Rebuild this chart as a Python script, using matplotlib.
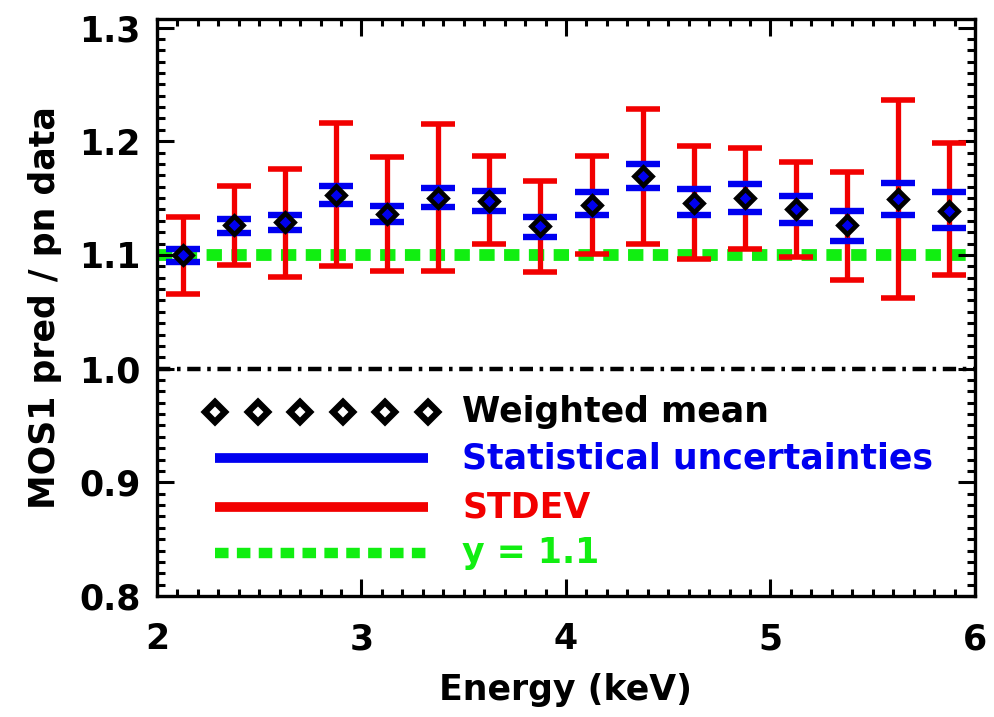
import matplotlib
matplotlib.use("Agg")
import matplotlib.pyplot as plt
from matplotlib.ticker import MultipleLocator

# ---- data ----
energy = [2.125, 2.375, 2.625, 2.875, 3.125, 3.375, 3.625, 3.875,
          4.125, 4.375, 4.625, 4.875, 5.125, 5.375, 5.625, 5.875]
weighted_mean = [1.100, 1.126, 1.129, 1.153, 1.136, 1.150, 1.147, 1.125,
                 1.144, 1.169, 1.146, 1.150, 1.140, 1.126, 1.149, 1.139]
stat_low = [1.094, 1.119, 1.122, 1.145, 1.129, 1.142, 1.139, 1.116,
            1.135, 1.159, 1.135, 1.138, 1.128, 1.112, 1.135, 1.124]
stat_high = [1.105, 1.132, 1.135, 1.161, 1.143, 1.159, 1.156, 1.133,
             1.155, 1.180, 1.158, 1.162, 1.152, 1.139, 1.163, 1.155]
std_low = [1.066, 1.091, 1.081, 1.090, 1.086, 1.086, 1.110, 1.085,
           1.101, 1.110, 1.096, 1.105, 1.098, 1.078, 1.062, 1.082]
std_high = [1.133, 1.161, 1.176, 1.216, 1.186, 1.215, 1.187, 1.165,
            1.187, 1.228, 1.196, 1.194, 1.182, 1.173, 1.236, 1.198]
ref_level = 1.1
unity = 1.0
x_ticks = [2, 3, 4, 5, 6]
y_ticks = [0.8, 0.9, 1.0, 1.1, 1.2, 1.3]
legend_labels = ["Weighted mean", "Statistical uncertainties", "STDEV", "y = 1.1"]

RED = "#f20000"
BLUE = "#0000f0"
GREEN = "#11ee11"

plt.rcParams['font.family'] = ['DejaVu Sans']
plt.rcParams['font.weight'] = 'bold'

fig = plt.figure(figsize=(9.95, 7.17), dpi=100)
ax = fig.add_axes([157/995, 1-596/717, 818/995, 577/717])

ax.set_xlim(2, 6)
ax.set_ylim(0.8, 1.3075)

# reference lines
ax.axhline(unity, color='black', lw=3.2, dashes=(3.0, 1.5, 0.8, 1.5), zorder=1)
ax.axhline(ref_level, color=GREEN, lw=8.5, dashes=(1.3, 0.8), zorder=1)

# STDEV: red vertical bars with caps
ax.vlines(energy, std_low, std_high, color=RED, lw=3.8, zorder=2)
ax.plot(energy, std_low, '_', color=RED, ms=24, mew=4.0, zorder=2)
ax.plot(energy, std_high, '_', color=RED, ms=24, mew=4.0, zorder=2)

# statistical uncertainties: blue caps
ax.plot(energy, stat_low, '_', color=BLUE, ms=24, mew=4.6, zorder=3)
ax.plot(energy, stat_high, '_', color=BLUE, ms=24, mew=4.6, zorder=3)

# weighted mean: diamonds
ax.plot(energy, weighted_mean, 'D', mfc=BLUE, mec='black', mew=3.4, ms=9.5, zorder=4)

# ---- legend drawn manually ----
tr = ax.transAxes
lx0, lx1, tx = 0.071, 0.331, 0.373
rows = [0.319, 0.239, 0.154, 0.0745]
n_d = 6
dx = [lx0 + i*(lx1-lx0)/(n_d-1) for i in range(n_d)]
ax.plot(dx, [rows[0]]*n_d, 'D', transform=tr, mfc='white', mec='black', mew=4.6, ms=10, clip_on=False)
ax.plot([lx0, lx1], [rows[1]]*2, color=BLUE, lw=7, transform=tr, solid_capstyle='butt')
ax.plot([lx0, lx1], [rows[2]]*2, color=RED, lw=7, transform=tr, solid_capstyle='butt')
ax.plot([lx0, lx1], [rows[3]]*2, color=GREEN, lw=7.5, transform=tr, dashes=(1.3, 0.8))
colors = ['black', BLUE, RED, GREEN]
for lab, yy, c in zip(legend_labels, rows, colors):
    ax.text(tx, yy, lab, transform=tr, color=c, fontsize=25, fontweight='bold',
            va='center', ha='left')

# ---- axes styling ----
for s in ax.spines.values():
    s.set_linewidth(2.4)
ax.set_xticks(x_ticks)
ax.set_yticks(y_ticks)
ax.set_yticklabels([f"{v:.1f}" for v in y_ticks])
ax.xaxis.set_minor_locator(MultipleLocator(0.1))
ax.yaxis.set_minor_locator(MultipleLocator(0.01))
ax.tick_params(which='both', direction='in', top=True, right=True, width=2.2)
ax.tick_params(axis='y', which='major', length=12, labelsize=25, pad=12)
ax.tick_params(axis='y', which='minor', length=6)
ax.tick_params(axis='x', which='major', length=12, labelsize=25, pad=19)
ax.tick_params(axis='x', which='minor', length=5)
for t in ax.get_xticklabels() + ax.get_yticklabels():
    t.set_fontweight('bold')

ax.set_xlabel("Energy (keV)", fontsize=25, fontweight='bold')
ax.set_ylabel("MOS1 pred / pn data", fontsize=25, fontweight='bold')
ax.xaxis.set_label_coords(0.499, -0.163)
ax.xaxis.label.set_va('center')
ax.yaxis.set_label_coords(-0.137, 0.5)
ax.yaxis.label.set_va('center')

fig.savefig("out.png", dpi=100)
